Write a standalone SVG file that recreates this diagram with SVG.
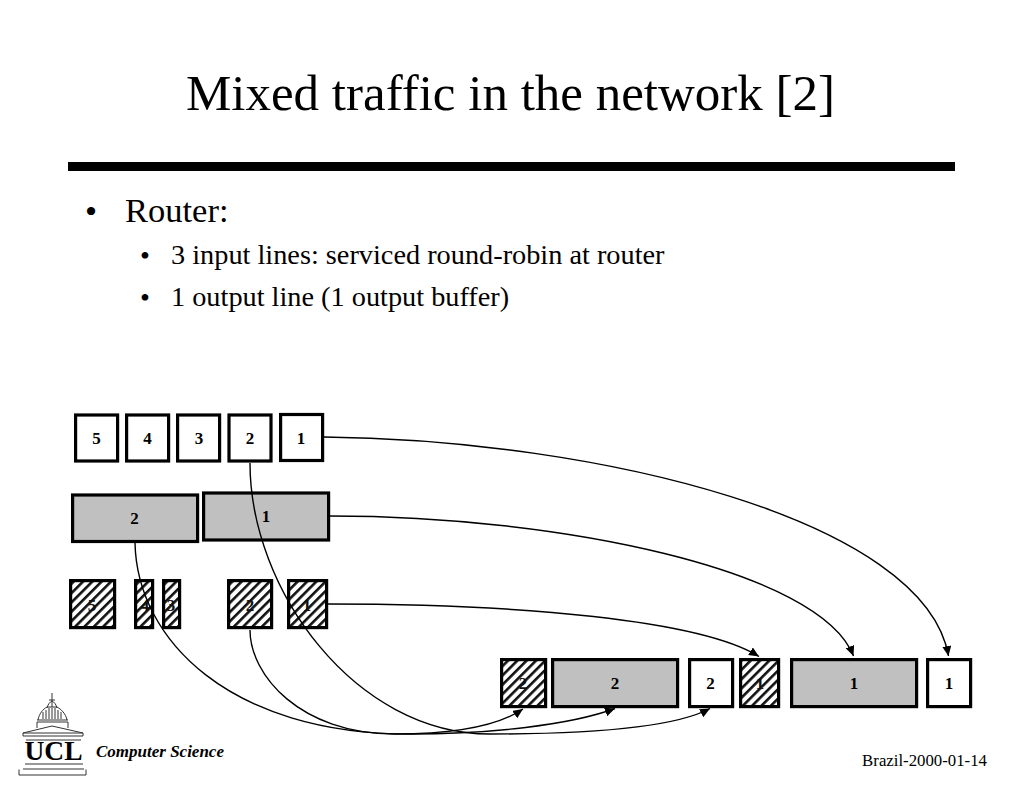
<svg xmlns="http://www.w3.org/2000/svg" width="1024" height="788" viewBox="0 0 1024 788">
<style>
text{font-family:"Liberation Serif","Times New Roman",serif;fill:#000}
.b{fill:#fff;stroke:#000;stroke-width:3.2}
.g{fill:#c0c0c0;stroke:#000;stroke-width:3.2}
.h{fill:url(#hatch);stroke:#000;stroke-width:3.2}
.n{font-size:17px;font-weight:bold;text-anchor:middle}
.m{fill:#111}
.c{fill:none;stroke:#000;stroke-width:1.4;marker-end:url(#arr)}
.l{fill:none;stroke:#333;stroke-width:1}
</style>
<defs>
<pattern id="hatch" patternUnits="userSpaceOnUse" width="6.6" height="6.6" patternTransform="rotate(45)">
<rect width="6.6" height="6.6" fill="#fff"/><rect width="2.6" height="6.6" fill="#111"/>
</pattern>
<marker id="arr" markerUnits="userSpaceOnUse" markerWidth="11" markerHeight="10" refX="10" refY="4.5" orient="auto">
<path d="M0,0L10,4.5L0,9z" fill="#000"/>
</marker>
</defs>
<rect width="1024" height="788" fill="#fff"/>
<text x="510.5" y="110" font-size="51" text-anchor="middle">Mixed traffic in the network [2]</text>
<rect x="68" y="162" width="887" height="9" fill="#000"/>
<g id="bullets">
<text x="85" y="223" font-size="34.5">•</text>
<text x="125" y="222" font-size="34.5">Router:</text>
<text x="140" y="265" font-size="28.3">•</text>
<text x="171" y="264" font-size="28.3">3 input lines: serviced round-robin at router</text>
<text x="140" y="307" font-size="28.3">•</text>
<text x="171" y="306" font-size="28.3">1 output line (1 output buffer)</text>
</g>
<g id="w5"><rect class="b" x="75.6" y="415" width="42" height="46"/><text class="n" x="96.5" y="444">5</text></g>
<g id="w4"><rect class="b" x="126.6" y="415" width="42" height="46"/><text class="n" x="147.5" y="444">4</text></g>
<g id="w3"><rect class="b" x="177.6" y="415" width="42" height="46"/><text class="n" x="199" y="444">3</text></g>
<g id="w2"><rect class="b" x="229" y="415" width="42" height="46"/><text class="n" x="250" y="444">2</text></g>
<g id="w1"><rect class="b" x="280.6" y="414.5" width="42" height="46"/><text class="n" x="301" y="444">1</text></g>
<g id="g2"><rect class="g" x="72.6" y="495" width="125" height="46.5"/><text class="n" x="134.5" y="524">2</text></g>
<g id="g1"><rect class="g" x="203.6" y="493" width="125" height="47"/><text class="n" x="266" y="522">1</text></g>
<g id="h5"><rect class="h" x="70.6" y="580.6" width="44" height="47"/><text class="n m" x="92" y="611">5</text></g>
<g id="h4"><rect class="h" x="135.6" y="580.6" width="17" height="47"/><text class="n m" x="145" y="611">4</text></g>
<g id="h3"><rect class="h" x="163.6" y="580.6" width="16" height="47"/><text class="n m" x="171" y="611">3</text></g>
<g id="h2"><rect class="h" x="228.6" y="580.6" width="43" height="47"/><text class="n m" x="250" y="611">2</text></g>
<g id="h1"><rect class="h" x="288.6" y="580.6" width="38" height="47"/><text class="n m" x="307" y="611">1</text></g>
<g id="oh2"><rect class="h" x="501.6" y="659.6" width="44" height="47"/><text class="n m" x="523" y="689">2</text></g>
<g id="og2"><rect class="g" x="552.6" y="659.6" width="125" height="47"/><text class="n" x="615" y="689">2</text></g>
<g id="ow2"><rect class="b" x="689.6" y="659.6" width="43" height="47"/><text class="n" x="710.5" y="689">2</text></g>
<g id="oh1"><rect class="h" x="740.6" y="659.6" width="38" height="47"/><text class="n m" x="760" y="689">1</text></g>
<g id="og1"><rect class="g" x="791.6" y="659.6" width="125" height="47"/><text class="n" x="854" y="689">1</text></g>
<g id="ow1"><rect class="b" x="927.6" y="659.6" width="43" height="47"/><text class="n" x="949" y="689">1</text></g>
<g id="connectors">
<path class="c" d="M324,437C600,440 925,520 948.5,656"/>
<path class="c" d="M330,516C560,516 820,570 853.5,656"/>
<path class="c" d="M328,604C520,604 700,620 759,656.5"/>
<path class="c" d="M250,463C250,590 355,734 490,734C570,734 670,730 710,708.5"/>
<path class="c" d="M135,543C137,640 230,734 410,734C490,734 570,725 615,708.5"/>
<path class="c" d="M250,630C250,675 300,734 395,734C450,734 495,728 523,709"/>
</g>
<g id="logo">
<path class="l" d="M52,693V707M49,700H55M47,708C48,704 50,702 52,701C54,702 56,704 57,708"/>
<path class="l" d="M38,720C39,714 43,709 47,707H57C61,709 66,714 67,720"/>
<path class="l" d="M43,719V712M46,719V710M49,719V708M52,719V708M55,719V708M58,719V710M61,719V712" stroke-width="1.2"/>
<path class="l" d="M37,720H68M37,722H68M37,722V728M68,722V728"/>
<path class="l" d="M23,733L52,726L83,733M23,733H83V736H23z"/>
<path class="l" d="M26,740H81"/>
<text x="53.5" y="760" font-size="27" font-weight="bold" text-anchor="middle" textLength="58" lengthAdjust="spacingAndGlyphs">UCL</text>
<path class="l" d="M25,764H83M23,769H84M19,775H86M19,769.5V775M86,769.5V775" stroke-width="1.3"/>
</g>
<text x="96" y="757" font-size="17" font-weight="bold" font-style="italic">Computer Science</text>
<text x="987" y="766" font-size="16.8" text-anchor="end">Brazil-2000-01-14</text>
</svg>
